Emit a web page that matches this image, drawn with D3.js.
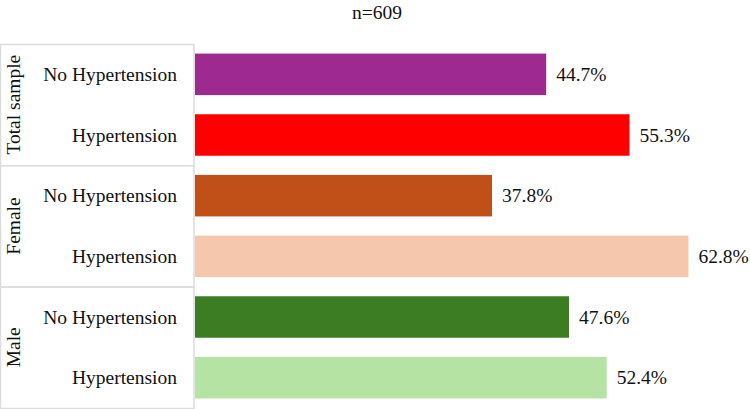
<!DOCTYPE html>
<html lang="en">
  <head>
    <meta charset="UTF-8" />
    <title>hypertension by group</title>
    <style type="text/css">
      html,
      body {
        margin: 0;
        padding: 0;
        background: #fff;
      }

      svg {
        display: block;
        font-family: "Liberation Serif", "Times New Roman", serif;
      }
    </style>
  </head>
  <body>
    <div id="chart"></div>

    <script src="https://cdnjs.cloudflare.com/ajax/libs/d3/7.8.5/d3.min.js"></script>
    <script>
      // === Data === //

      var title = "n=609";
      var groups = ["Total sample", "Female", "Male"];
      var categories = ["No Hypertension", "Hypertension"];
      var values = [44.7, 55.3, 37.8, 62.8, 47.6, 52.4];
      var colours = ["#9e2a8f", "#ff0000", "#c05017", "#f5c7ad", "#3c7d23", "#b4e3a3"];

      // one row per bar
      var rows = [];
      groups.forEach(function(g, gi) {
        categories.forEach(function(c, ci) {
          var i = gi * categories.length + ci;
          rows.push({ id: i, group: g, category: c, value: values[i], colour: colours[i] });
        });
      });

      // === Layout === //

      var width = 750,
        height = 409;
      var panelRight = 194;
      var plotTop = 44,
        plotBottom = 408;

      var svg = d3
        .select("#chart")
        .append("svg")
        .attr("width", width)
        .attr("height", height);

      var x = d3
        .scaleLinear()
        .domain([0, 70])
        .range([panelRight + 1, width - 5]);

      var y = d3
        .scaleBand()
        .domain(rows.map(function(d) { return d.id; }))
        .range([plotTop, plotBottom])
        .paddingInner(0.316)
        .paddingOuter(0.158);

      var yGroup = d3
        .scaleBand()
        .domain(groups)
        .range([plotTop, plotBottom]);

      // === Title === //

      svg
        .append("text")
        .attr("x", 377)
        .attr("y", 19)
        .attr("text-anchor", "middle")
        .style("font-size", "19.5px")
        .style("fill", "#111")
        .text(title);

      // === Label panel === //

      var panel = svg.append("g").attr("class", "panel");

      panel
        .selectAll("rect.groupbox")
        .data(groups)
        .enter()
        .append("rect")
        .attr("class", "groupbox")
        .attr("x", 0.5)
        .attr("y", function(d) { return yGroup(d) + 0.5; })
        .attr("width", panelRight - 0.5)
        .attr("height", yGroup.bandwidth())
        .style("fill", "#fff")
        .style("stroke", "#dcdcdc")
        .style("stroke-width", 1.5);

      panel
        .selectAll("text.group")
        .data(groups)
        .enter()
        .append("text")
        .attr("class", "group")
        .attr("transform", function(d) {
          return "translate(13," + (yGroup(d) + yGroup.bandwidth() / 2) + ") rotate(-90)";
        })
        .attr("dy", "0.35em")
        .attr("text-anchor", "middle")
        .style("font-size", "19.5px")
        .style("fill", "#111")
        .text(function(d) { return d; });

      panel
        .selectAll("text.category")
        .data(rows)
        .enter()
        .append("text")
        .attr("class", "category")
        .attr("x", 177)
        .attr("y", function(d) { return y(d.id) + y.bandwidth() / 2; })
        .attr("dy", "0.35em")
        .attr("text-anchor", "end")
        .style("font-size", "19.5px")
        .style("fill", "#111")
        .text(function(d) { return d.category; });

      // === Bars === //

      svg
        .selectAll("rect.bar")
        .data(rows)
        .enter()
        .append("rect")
        .attr("class", "bar")
        .attr("x", x(0))
        .attr("y", function(d) { return y(d.id); })
        .attr("width", function(d) { return x(d.value) - x(0); })
        .attr("height", y.bandwidth())
        .style("fill", function(d) { return d.colour; });

      svg
        .selectAll("text.value")
        .data(rows)
        .enter()
        .append("text")
        .attr("class", "value")
        .attr("x", function(d) { return x(d.value) + 10; })
        .attr("y", function(d) { return y(d.id) + y.bandwidth() / 2; })
        .attr("dy", "0.35em")
        .style("font-size", "19.5px")
        .style("fill", "#111")
        .text(function(d) { return d.value.toFixed(1) + "%"; });
    </script>
  </body>
</html>
